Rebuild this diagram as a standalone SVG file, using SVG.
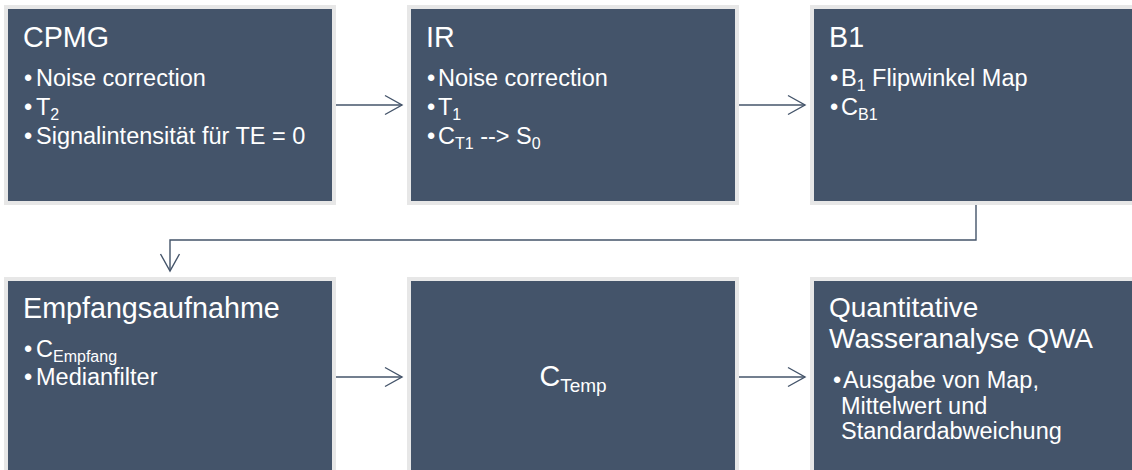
<svg xmlns="http://www.w3.org/2000/svg" width="1132" height="470" viewBox="0 0 1132 470">
<style>
.box{fill:#44546a;stroke:#e7e7e7;stroke-width:4}
.t{font-family:"Liberation Sans",Arial,sans-serif;fill:#ffffff}
.ti{font-size:28.7px}
.b{font-size:23.5px}
.s{font-size:16px}
.conn{fill:none;stroke:#44546a;stroke-width:1.4}
</style>
<defs>
<marker id="ah" viewBox="-19 -11 21 22" refX="0" refY="0" markerWidth="21" markerHeight="22" markerUnits="userSpaceOnUse" orient="auto">
<path d="M-17,-9.5 L0,0 L-17,9.5" fill="none" stroke="#44546a" stroke-width="1.4"/>
</marker>
</defs>
<rect width="1132" height="470" fill="#ffffff"/>
<g id="connectors">
<path class="conn" d="M336,105 H402" marker-end="url(#ah)"/>
<path class="conn" d="M737,105 H805" marker-end="url(#ah)"/>
<path class="conn" d="M976,204 V240 H170 V271" marker-end="url(#ah)"/>
<path class="conn" d="M336,377 H402" marker-end="url(#ah)"/>
<path class="conn" d="M737,377 H805" marker-end="url(#ah)"/>
</g>
<g id="cpmg">
<rect class="box" x="6" y="7" width="328" height="196"/>
<text class="t ti" x="23" y="47">CPMG</text>
<text class="t b" x="24" y="86">•</text><text class="t b" x="36" y="86">Noise correction</text>
<text class="t b" x="24" y="115">•</text><text class="t b" x="36" y="115">T<tspan class="s" dy="5">2</tspan></text>
<text class="t b" x="24" y="144">•</text><text class="t b" x="36" y="144">Signalintensität für TE = 0</text>
</g>
<g id="ir">
<rect class="box" x="409" y="7" width="328" height="196"/>
<text class="t ti" x="426" y="47">IR</text>
<text class="t b" x="427" y="86">•</text><text class="t b" x="438" y="86">Noise correction</text>
<text class="t b" x="427" y="115">•</text><text class="t b" x="438" y="115">T<tspan class="s" dy="5">1</tspan></text>
<text class="t b" x="427" y="144">•</text><text class="t b" x="438" y="144">C<tspan class="s" dy="5">T1</tspan><tspan dy="-5"> --&gt; S</tspan><tspan class="s" dy="5">0</tspan></text>
</g>
<g id="b1">
<rect class="box" x="812" y="7" width="328" height="196"/>
<text class="t ti" x="829" y="47">B1</text>
<text class="t b" x="830" y="86">•</text><text class="t b" x="841" y="86">B<tspan class="s" dy="5">1</tspan><tspan dy="-5"> Flipwinkel Map</tspan></text>
<text class="t b" x="830" y="115">•</text><text class="t b" x="841" y="115">C<tspan class="s" dy="5">B1</tspan></text>
</g>
<g id="empfang">
<rect class="box" x="6" y="279" width="328" height="196"/>
<text class="t ti" x="23" y="318">Empfangsaufnahme</text>
<text class="t b" x="24" y="357">•</text><text class="t b" x="36" y="357">C<tspan class="s" dy="5">Empfang</tspan></text>
<text class="t b" x="24" y="385">•</text><text class="t b" x="36" y="385">Medianfilter</text>
</g>
<g id="ctemp">
<rect class="box" x="409" y="279" width="328" height="196"/>
<text class="t ti" x="573" y="386" text-anchor="middle">C<tspan style="font-size:19px" dy="6">Temp</tspan></text>
</g>
<g id="qwa">
<rect class="box" x="812" y="279" width="328" height="196"/>
<text class="t" style="font-size:28px" x="829" y="316.5">Quantitative</text>
<text class="t" style="font-size:28px" x="829" y="348">Wasseranalyse QWA</text>
<text class="t b" x="833" y="388">•</text>
<text class="t b" x="843" y="388">Ausgabe von Map,<tspan x="841" y="413.5">Mittelwert und</tspan><tspan x="841" y="439">Standardabweichung</tspan></text>
</g>
</svg>
